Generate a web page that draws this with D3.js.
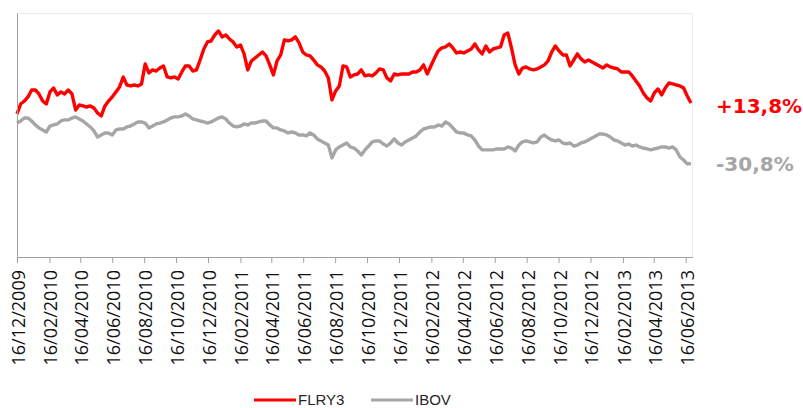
<!DOCTYPE html>
<html><head><meta charset="utf-8">
<script src="https://cdn.jsdelivr.net/npm/d3@7"></script>
<style>html,body{margin:0;padding:0;background:#fff;} svg{display:block;}</style>
</head><body>
<svg id="chart" width="803" height="408"></svg>
<script>
// ---- data ----
const startDate = "2009-12-16";   // first weekly observation
const endDate = "2013-06-29";     // end of the date axis
const tickLabels = ["16/12/2009","16/02/2010","16/04/2010","16/06/2010","16/08/2010","16/10/2010",
  "16/12/2010","16/02/2011","16/04/2011","16/06/2011","16/08/2011","16/10/2011","16/12/2011",
  "16/02/2012","16/04/2012","16/06/2012","16/08/2012","16/10/2012","16/12/2012","16/02/2013",
  "16/04/2013","16/06/2013"];
const seriesNames = ["FLRY3", "IBOV"];
// weekly cumulative performance, %
const flry3 = [5.7,13.0,15.2,18.2,23.3,23.3,20.4,15.2,13.0,21.9,
  24.8,19.7,21.9,20.4,23.3,20.4,8.6,12.3,11.6,10.8,
  11.6,10.1,6.4,4.2,11.6,15.2,18.2,21.9,25.6,32.9,
  27.0,26.3,27.0,26.3,27.8,42.5,35.9,38.1,37.3,39.5,
  41.0,32.9,32.2,32.9,31.4,36.6,41.0,41.0,37.3,38.1,
  45.4,53.5,58.7,59.4,63.8,66.8,62.4,63.8,60.9,58.7,
  55.0,56.5,49.9,38.1,44.7,46.9,49.1,51.3,48.4,41.8,
  34.4,44.7,49.1,60.2,59.4,60.2,62.4,58.0,51.3,49.1,
  48.4,45.4,41.8,40.3,37.3,32.2,16.0,22.6,26.3,41.0,
  40.3,32.9,34.4,35.1,38.1,33.7,34.4,33.7,35.9,38.8,
  38.1,32.2,30.0,35.1,34.4,35.1,35.1,35.1,36.6,36.6,
  38.1,41.8,35.1,41.0,46.9,52.1,54.3,55.0,57.2,54.3,
  50.6,51.3,50.6,52.1,53.5,57.2,52.8,49.9,55.7,51.3,
  53.5,54.3,55.0,63.8,65.3,54.3,41.8,35.1,39.5,40.3,
  38.8,38.1,38.8,40.3,41.8,44.7,51.3,55.7,52.1,49.1,
  49.1,41.0,45.4,49.9,46.2,44.0,45.4,44.0,42.5,41.0,
  39.5,41.8,40.3,39.5,38.8,36.6,36.6,36.6,33.7,30.0,
  26.3,21.1,17.5,15.2,21.1,24.1,19.7,24.8,28.5,27.8,
  27.0,26.3,24.8,18.9,13.8];
const ibov = [-1.0,0.5,2.7,2.7,0.5,-2.4,-4.6,-6.1,-7.6,-3.2,
  -2.4,-1.7,0.5,1.3,1.3,2.7,3.5,2.0,0.5,-1.7,
  -3.9,-6.8,-11.3,-9.8,-8.3,-8.3,-9.8,-6.1,-5.4,-5.4,
  -3.9,-3.2,-1.7,-0.2,-0.2,-1.0,-4.6,-3.2,-1.7,-1.0,
  -0.2,1.3,2.7,3.5,3.5,4.2,5.7,4.2,2.0,1.3,
  0.5,-0.2,-1.0,-0.2,1.3,2.7,3.5,2.0,-1.0,-3.2,
  -3.9,-3.2,-1.7,-2.4,-1.0,-1.0,-0.2,0.5,0.5,-2.4,
  -4.6,-4.6,-6.1,-6.8,-8.3,-7.6,-8.3,-9.8,-9.8,-10.5,
  -8.3,-9.8,-12.7,-14.2,-15.7,-17.2,-26.7,-20.8,-18.6,-17.2,
  -15.7,-18.6,-19.4,-21.6,-24.5,-20.8,-17.9,-14.9,-14.2,-14.2,
  -16.4,-17.9,-15.7,-12.7,-15.7,-17.2,-14.9,-13.5,-12.0,-10.5,
  -7.6,-5.4,-4.6,-3.9,-3.9,-2.4,-3.2,-0.2,-1.7,-4.6,
  -7.6,-8.3,-8.3,-9.8,-10.5,-13.5,-17.9,-20.8,-20.8,-20.8,
  -20.8,-20.1,-20.1,-20.1,-18.6,-19.4,-21.6,-17.2,-14.9,-14.2,
  -14.9,-15.7,-14.9,-11.3,-9.8,-12.0,-13.5,-14.2,-13.5,-15.7,
  -16.4,-15.7,-17.9,-17.2,-15.7,-14.9,-13.5,-12.0,-10.5,-9.1,
  -9.1,-9.8,-11.3,-13.5,-14.2,-15.7,-17.2,-16.4,-17.9,-17.2,
  -18.6,-19.4,-20.1,-20.8,-20.1,-19.4,-18.6,-18.6,-19.4,-18.6,
  -20.8,-26.0,-28.2,-31.1,-30.8];
const colors = ["#ff0000", "#a6a6a6"];

// ---- chart ----
const parse = d3.utcParse("%Y-%m-%d");
const parseTick = d3.utcParse("%d/%m/%Y");
const t0 = parse(startDate);
const dates = flry3.map((_, i) => d3.utcDay.offset(t0, 7 * i));

const svg = d3.select("#chart");
const x = d3.scaleUtc().domain([t0, parse(endDate)]).range([17, 692.5]);
const y = d3.scaleLinear().domain([-100, 80]).range([257.5, 13]);

// faint plot-area border
svg.append("rect").attr("x", 17.5).attr("y", 13.5)
  .attr("width", 675).attr("height", 244)
  .attr("fill", "none").attr("stroke", "#ececec");

// lines
const line = d3.line().x((d, i) => x(dates[i])).y(d => y(d));
[ibov, flry3].forEach((s, k) => {
  svg.append("path").datum(s)
    .attr("fill", "none")
    .attr("stroke", k === 0 ? colors[1] : colors[0])
    .attr("stroke-width", 3.4)
    .attr("stroke-linejoin", "round")
    .attr("d", line);
});

// y axis (line only)
svg.append("g").attr("transform", "translate(17,0)")
  .call(d3.axisLeft(y).tickValues([]).tickSizeOuter(0))
  .call(g => g.select(".domain").attr("stroke", "#a0a0a0"));

// x axis
const xAxis = svg.append("g").attr("transform", "translate(0,257)")
  .call(d3.axisBottom(x)
    .tickValues(tickLabels.map(parseTick))
    .tickFormat((d, i) => tickLabels[i])
    .tickSize(6).tickSizeOuter(0));
xAxis.select(".domain").attr("stroke", "#a0a0a0");
xAxis.selectAll(".tick line").attr("stroke", "#a0a0a0");
xAxis.selectAll(".tick text")
  .attr("transform", "rotate(-90)")
  .attr("text-anchor", "end")
  .attr("x", -13).attr("y", 7.5).attr("dy", null)
  .attr("fill", "#111")
  .style("font-family", "'Open Sans', sans-serif")
  .style("font-size", "18px");

// end labels
const fmt = v => d3.format("+.1f")(v).replace(".", ",").replace("\u2212", "-") + "%";
const endLabels = [
  {v: flry3[flry3.length - 1], c: colors[0], yPos: 113.3},
  {v: ibov[ibov.length - 1], c: colors[1], yPos: 170.5}
];
svg.selectAll(".endlab").data(endLabels).enter().append("text")
  .attr("class", "endlab")
  .attr("x", 716).attr("y", d => d.yPos)
  .attr("fill", d => d.c)
  .style("font-family", "'DejaVu Sans', sans-serif")
  .style("font-weight", "bold")
  .style("font-size", "20px")
  .text(d => fmt(d.v));

// legend
const legendX = [254, 371];
seriesNames.forEach((name, i) => {
  svg.append("line").attr("x1", legendX[i]).attr("x2", legendX[i] + 42)
    .attr("y1", 400).attr("y2", 400)
    .attr("stroke", colors[i]).attr("stroke-width", 3);
  svg.append("text").attr("x", legendX[i] + 44).attr("y", 404.5)
    .attr("fill", "#262626")
    .style("font-family", "'Liberation Sans', Arial, sans-serif")
    .style("font-size", "15px")
    .text(name);
});
</script>
</body></html>
